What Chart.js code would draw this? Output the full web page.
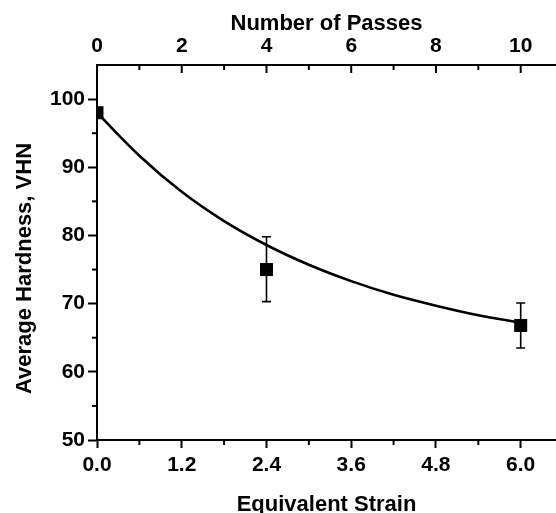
<!DOCTYPE html>
<html><head><meta charset="utf-8">
<script src="https://cdn.jsdelivr.net/npm/chart.js@4.4.0/dist/chart.umd.min.js"></script>
<style>
html,body{margin:0;padding:0;background:#fff;overflow:hidden;width:556px;height:513px}
#wrap{position:absolute;left:0;top:0;width:620px;height:513px}
</style>
</head><body><div id="wrap"><canvas id="c" width="620" height="513"></canvas></div>
<script>
// ---- data ----
const strain = [0, 2.4, 6.0];
const hardness = [98.0, 75.0, 66.8];
const errUp = [0, 4.8, 3.3];
const errDown = [0, 4.7, 3.3];
const fitStrain = [0, 0.6, 1.2, 1.8, 2.4, 3.0, 3.6, 4.2, 4.8, 5.4, 6.0];
const fitHardness = [98.0, 91.7, 86.4, 82.1, 78.6, 75.7, 73.3, 71.3, 69.7, 68.3, 67.2];
const strainTicks = [0, 1.2, 2.4, 3.6, 4.8, 6.0];
const strainMinor = [0.6, 1.8, 3.0, 4.2, 5.4];
const passTicks = [0, 2, 4, 6, 8, 10];
const passMinor = [1, 3, 5, 7, 9];
const hardnessTicks = [50, 60, 70, 80, 90, 100];
const hardnessMinor = [55, 65, 75, 85, 95];
const strainPerPass = 0.6;
const strainMax = 6.5;
const yTitle = 'Average Hardness, VHN';

const FONT = "'Liberation Sans', Arial, sans-serif";

const errorBars = {
  id: 'errorBars',
  afterDatasetsDraw(chart) {
    const {ctx, scales: {x, y}} = chart;
    ctx.save();
    ctx.strokeStyle = '#000';
    ctx.lineWidth = 1.6;
    strain.forEach((s, i) => {
      if (!errUp[i] && !errDown[i]) return;
      const px = x.getPixelForValue(s);
      const pt = y.getPixelForValue(hardness[i] + errUp[i]);
      const pb = y.getPixelForValue(hardness[i] - errDown[i]);
      ctx.beginPath();
      ctx.moveTo(px, pt); ctx.lineTo(px, pb);
      ctx.moveTo(px - 4.5, pt); ctx.lineTo(px + 4.5, pt);
      ctx.moveTo(px - 4.5, pb); ctx.lineTo(px + 4.5, pb);
      ctx.stroke();
    });
    ctx.restore();
  }
};

const axisTicks = {
  id: 'axisTicks',
  afterDraw(chart) {
    const {ctx, chartArea: {top, bottom, left}, scales: {x, x2, y}} = chart;
    ctx.save();
    ctx.strokeStyle = '#000';
    ctx.lineWidth = 2;
    const seg = (a, b, c, d) => { ctx.beginPath(); ctx.moveTo(a, b); ctx.lineTo(c, d); ctx.stroke(); };
    strainMinor.forEach(v => { const p = x.getPixelForValue(v); seg(p, bottom, p, bottom + 5); });
    hardnessMinor.forEach(v => { const p = y.getPixelForValue(v); seg(left - 5, p, left, p); });
    passTicks.forEach(v => { const p = x2.getPixelForValue(v); seg(p, top, p, top + 8); });
    passMinor.forEach(v => { const p = x2.getPixelForValue(v); seg(p, top, p, top + 5); });
    // y-axis title, drawn slightly below the axis middle as in the reference
    ctx.fillStyle = '#000';
    ctx.font = "bold 22px " + FONT;
    ctx.textAlign = 'center';
    ctx.textBaseline = 'middle';
    ctx.translate(25, (top + bottom) / 2 + 16);
    ctx.rotate(-Math.PI / 2);
    ctx.fillText(yTitle, 0, 0);
    ctx.restore();
  }
};

new Chart(document.getElementById('c'), {
  type: 'line',
  data: {
    datasets: [
      {
        label: 'fit',
        data: fitStrain.map((s, i) => ({x: s, y: fitHardness[i]})),
        borderColor: '#000',
        borderWidth: 2.6,
        pointRadius: 0,
        fill: false,
        cubicInterpolationMode: 'monotone',
        xAxisID: 'x', yAxisID: 'y'
      },
      {
        label: 'hardness',
        data: strain.map((s, i) => ({x: s, y: hardness[i]})),
        showLine: false,
        pointStyle: 'rect',
        pointRadius: 9.2,
        pointBackgroundColor: '#000',
        pointBorderColor: '#000',
        pointBorderWidth: 0,
        clip: 0,
        xAxisID: 'x', yAxisID: 'y'
      }
    ]
  },
  options: {
    responsive: false,
    animation: false,
    events: [],
    layout: {padding: {left: 0, right: 64, top: 0, bottom: 0}},
    plugins: {legend: {display: false}, tooltip: {enabled: false}},
    scales: {
      x: {
        type: 'linear', position: 'bottom', min: 0, max: strainMax,
        afterBuildTicks: s => { s.ticks = strainTicks.map(v => ({value: v})); },
        afterFit: s => { s.height = 73; },
        ticks: {
          color: '#000', padding: 5, maxRotation: 0, autoSkip: false,
          font: {family: FONT, size: 21, weight: 'bold'},
          callback: v => Number(v).toFixed(1)
        },
        grid: {drawOnChartArea: false, drawTicks: true, tickLength: 8, tickWidth: 2, tickColor: '#000'},
        border: {display: true, color: '#000', width: 2},
        title: {display: true, text: 'Equivalent Strain', color: '#000',
          font: {family: FONT, size: 22, weight: 'bold'}, padding: {top: 0, bottom: -5}}
      },
      x2: {
        type: 'linear', position: 'top', min: 0, max: strainMax / strainPerPass,
        afterBuildTicks: s => { s.ticks = passTicks.map(v => ({value: v})); },
        afterFit: s => { s.height = 65; },
        ticks: {
          color: '#000', padding: 6, maxRotation: 0, autoSkip: false,
          font: {family: FONT, size: 21, weight: 'bold'},
          callback: v => String(v)
        },
        grid: {drawOnChartArea: false, drawTicks: false},
        border: {display: true, color: '#000', width: 2},
        title: {display: true, text: 'Number of Passes', color: '#000',
          font: {family: FONT, size: 22, weight: 'bold'}, padding: {top: 11, bottom: 0}}
      },
      y: {
        type: 'linear', position: 'left', min: 50, max: 105,
        afterBuildTicks: s => { s.ticks = hardnessTicks.map(v => ({value: v})); },
        afterFit: s => { s.width = 97; },
        ticks: {
          color: '#000', padding: 3, autoSkip: false,
          font: {family: FONT, size: 21, weight: 'bold'},
          callback: v => String(v)
        },
        grid: {drawOnChartArea: false, drawTicks: true, tickLength: 9, tickWidth: 2, tickColor: '#000'},
        border: {display: true, color: '#000', width: 2},
        title: {display: false}
      }
    }
  },
  plugins: [errorBars, axisTicks]
});
</script>
</body></html>
